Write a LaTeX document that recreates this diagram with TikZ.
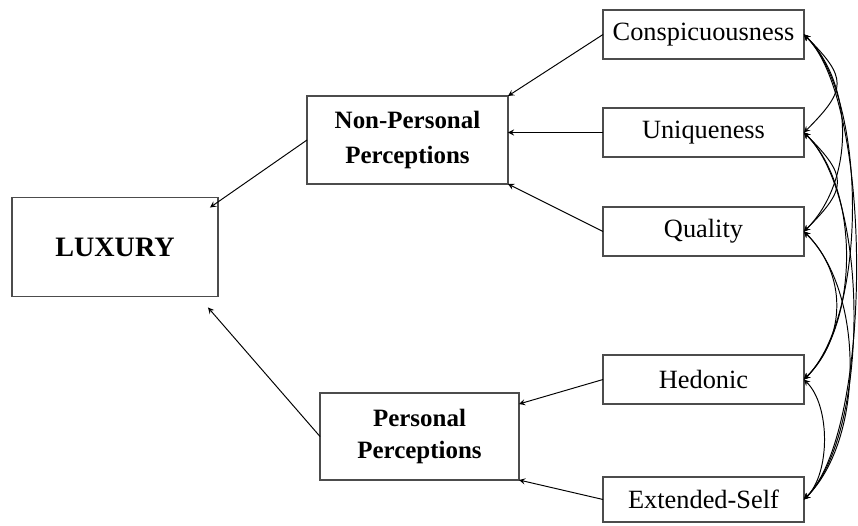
\documentclass[tikz,border=0pt]{standalone}
\usepackage{fontspec}
\setmainfont{Liberation Serif}

\begin{document}
\begin{tikzpicture}[x=0.02cm,y=-0.02cm,
    box/.style={draw=black!70,line width=0.8pt,inner sep=0pt,outer sep=0pt,
      align=center,font=\fontsize{15}{19}\selectfont},
    smallbox/.style={box,minimum width=4.02cm,minimum height=0.98cm},
    link/.style={-stealth,line width=0.55pt},
    corr/.style={stealth-stealth,line width=0.55pt}]
    \useasboundingbox (0,0) rectangle (858,526);

    \node[box,minimum width=4.12cm,minimum height=1.98cm,font=\fontsize{16}{19}\selectfont\bfseries] (lux) at (115,247) {LUXURY};

    \node[box,minimum width=4.02cm,minimum height=1.76cm,font=\fontsize{14.2}{20}\selectfont\bfseries] (npp) at (407.5,140) {Non-Personal\\Perceptions};
    \node[box,minimum width=3.98cm,minimum height=1.74cm,font=\fontsize{14.2}{18}\selectfont\bfseries] (pp) at (419.5,436.5) {Personal\\Perceptions};

    \node[smallbox] (cons) at (703.5,34.5) {Conspicuousness};
    \node[smallbox] (uniq) at (703.5,132.5) {Uniqueness};
    \node[smallbox] (qual) at (703.5,231.5) {Quality};
    \node[smallbox] (hed) at (703.5,379.5) {Hedonic};
    \node[smallbox,minimum height=0.9cm] (ext) at (703.5,499.5) {Extended-Self};

    \draw[link] (npp.west) -- ([xshift=-0.16cm,yshift=-0.2cm]lux.north east);
    \draw[link] (pp.west) -- ([xshift=-0.2cm,yshift=-0.22cm]lux.south east);

    \draw[link] (cons.west) -- (npp.north east);
    \draw[link] (uniq.west) -- (npp.east |- uniq.west);
    \draw[link] (qual.west) -- (npp.south east);
    \draw[link] (hed.west) -- ([yshift=-0.22cm]pp.north east);
    \draw[link] (ext.west) -- (pp.south east);

    % correlations between the five dimensions
    \draw[corr] (cons.east) to[out=-45,in=45,looseness=1.6] (uniq.east);
    \draw[corr] (uniq.east) to[out=-45,in=45,looseness=1.6] (qual.east);
    \draw[corr] (qual.east) to[out=-45,in=45,looseness=1.05] (hed.east);
    \draw[corr] (hed.east) to[out=-45,in=45,looseness=0.8] (ext.east);
    \draw[corr] (cons.east) to[out=-45,in=45,looseness=0.93] (qual.east);
    \draw[corr] (uniq.east) to[out=-45,in=45,looseness=0.82] (hed.east);
    \draw[corr] (qual.east) to[out=-45,in=45,looseness=0.82] (ext.east);
    \draw[corr] (cons.east) to[out=-45,in=45,looseness=0.67] (hed.east);
    \draw[corr] (uniq.east) to[out=-45,in=45,looseness=0.65] (ext.east);
    \draw[corr] (cons.east) to[out=-45,in=45,looseness=0.54] (ext.east);
  \end{tikzpicture}
\end{document}
